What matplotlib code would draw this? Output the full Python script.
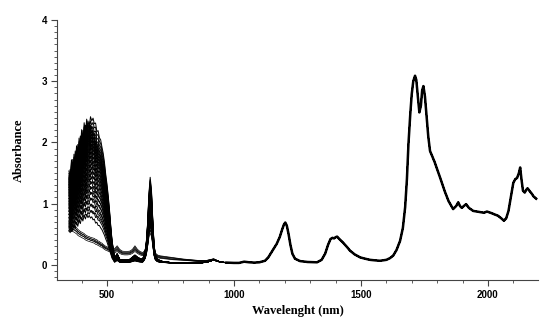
import numpy as np
import matplotlib
matplotlib.use('Agg')
import matplotlib.pyplot as plt
from matplotlib.ticker import MultipleLocator

# visible part of the spectra (350-950 nm)
vis_wl = [350, 355, 360, 365, 370, 375, 380, 385, 390, 395, 400, 405, 410, 415,
          420, 425, 430, 435, 440, 445, 450, 455, 460, 465, 470, 475, 480, 485,
          490, 495, 500, 505, 510, 515, 520,
          530, 540, 550, 560, 570, 580, 590, 600, 610, 620, 630, 640,
          645, 650, 655, 660, 665, 670, 675, 680, 685, 690, 695, 700,
          710, 720, 740, 760, 780, 800, 830, 860, 890, 920, 950]

# common baseline
vis_base = [0.12, 0.12, 0.12, 0.12, 0.12, 0.12, 0.12, 0.11, 0.11, 0.11, 0.11, 0.11, 0.11, 0.1,
            0.1, 0.1, 0.1, 0.1, 0.1, 0.1, 0.1, 0.09, 0.09, 0.08, 0.08, 0.07, 0.07, 0.06,
            0.05, 0.04, 0.04, 0.03, 0.03, 0.02, 0.02,
            0.02, 0.02, 0.02, 0.02, 0.02, 0.02, 0.02, 0.02, 0.02, 0.02, 0.02, 0.02,
            0.02, 0.02, 0.02, 0.02, 0.02, 0.02, 0.02, 0.02, 0.02, 0.03, 0.03, 0.03,
            0.03, 0.03, 0.03, 0.03, 0.03, 0.03, 0.03, 0.03, 0.04, 0.08, 0.04]

# tail after 530 nm shared by both blue band variants
blue_tail = [0.07, 0.03, 0.025, 0.025, 0.025, 0.03, 0.045, 0.06, 0.045, 0.035, 0.03,
             0.03, 0.03, 0.03, 0.03, 0.03, 0.03, 0.03, 0.03, 0.025, 0.02, 0.02, 0.02,
             0.015, 0.01, 0.005, 0, 0, 0, 0, 0, 0, 0, 0]

# blue (carotenoid) band, relative to its maximum: two noisy variants
blue_a = [0.55, 0.62, 0.54, 0.69, 0.63, 0.75, 0.69, 0.8, 0.75, 0.86, 0.81, 0.9, 0.86, 0.94,
          0.9, 0.97, 0.93, 1.0, 0.97, 0.99, 0.95, 0.96, 0.9, 0.91, 0.86, 0.85, 0.8, 0.76,
          0.7, 0.62, 0.55, 0.47, 0.37, 0.26, 0.16, 0.04] + blue_tail
blue_b = [0.62, 0.56, 0.7, 0.6, 0.74, 0.66, 0.8, 0.72, 0.86, 0.78, 0.92, 0.84, 0.97, 0.9,
          1.0, 0.93, 0.98, 0.92, 0.95, 0.88, 0.9, 0.82, 0.84, 0.78, 0.78, 0.74, 0.7, 0.65,
          0.6, 0.53, 0.46, 0.38, 0.29, 0.2, 0.12, 0.03] + blue_tail

# red (chlorophyll) band, relative to its maximum
red_shape = [0] * 47 + [0.04, 0.1, 0.22, 0.45, 0.8, 1.0, 0.85, 0.5, 0.2, 0.07, 0.03, 0.01] + [0] * 11

# smooth curves without the blue band, relative to their start value
low_a = [1.0, 0.98, 0.95, 0.93, 0.9, 0.87, 0.84, 0.81, 0.78, 0.75, 0.73, 0.71, 0.69, 0.67,
         0.65, 0.63, 0.62, 0.6, 0.59, 0.58, 0.57, 0.56, 0.55, 0.53, 0.52, 0.5, 0.49, 0.47,
         0.46, 0.45, 0.44, 0.43, 0.42, 0.41, 0.4,
         0.42, 0.5, 0.4, 0.35, 0.34, 0.34, 0.35, 0.4, 0.5, 0.4, 0.34, 0.31,
         0.3, 0.29, 0.28, 0.27, 0.26, 0.25, 0.25, 0.24, 0.23, 0.22, 0.22, 0.21,
         0.2, 0.19, 0.17, 0.15, 0.13, 0.11, 0.09, 0.07, 0.05, 0.03, 0.0]
low_b = [1.0, 0.97, 0.94, 0.9, 0.88, 0.85, 0.82, 0.79, 0.76, 0.74, 0.71, 0.69, 0.67, 0.65,
         0.63, 0.61, 0.6, 0.58, 0.57, 0.55, 0.54, 0.52, 0.51, 0.5, 0.48, 0.47, 0.46, 0.44,
         0.43, 0.42, 0.41, 0.4, 0.39, 0.38, 0.37,
         0.37, 0.42, 0.35, 0.31, 0.3, 0.3, 0.31, 0.35, 0.42, 0.35, 0.3, 0.27,
         0.26, 0.25, 0.24, 0.23, 0.22, 0.21, 0.21, 0.2, 0.19, 0.18, 0.18, 0.17,
         0.16, 0.15, 0.13, 0.11, 0.1, 0.09, 0.07, 0.05, 0.03, 0.02, 0.0]

# per-curve band heights
blue_peaks = [2.32, 2.28, 2.25, 2.21, 2.18, 2.15, 2.12, 2.1, 2.07, 2.04, 2.01, 1.98, 1.95,
              1.92, 1.88, 1.85, 1.82, 1.78, 1.75, 1.71, 1.68, 1.64, 1.6, 1.56, 1.52, 1.48,
              1.44, 1.4, 1.36, 1.32, 1.27, 1.23, 1.18, 1.14, 1.09, 1.04, 0.99, 0.94, 0.88,
              0.83, 0.78, 0.72]
red_peaks = [1.34, 1.25, 1.3, 1.2, 1.28, 1.15, 1.22, 1.1, 1.18, 1.05, 1.12, 1.0, 1.08,
             0.98, 1.05, 0.95, 1.02, 0.92, 0.99, 0.9, 0.96, 0.88, 0.93, 0.85, 0.9, 0.82,
             0.88, 0.8, 0.85, 0.78, 0.82, 0.75, 0.8, 0.72, 0.76, 0.7, 0.72, 0.66, 0.68,
             0.62, 0.64, 0.6]
low_starts = [0.58, 0.56, 0.54, 0.52, 0.5, 0.47]
low_red = [0.55, 0.5, 0.48, 0.45, 0.42, 0.4]

# near infrared part, shared by all samples
nir_wl = [970, 1000, 1020, 1040, 1060, 1080, 1100, 1122, 1135, 1150, 1168, 1180, 1190,
          1197, 1202, 1208, 1215, 1222, 1230, 1240, 1260, 1290, 1327, 1345, 1359, 1370,
          1380, 1388, 1394, 1400, 1406, 1415, 1430, 1445, 1457, 1475, 1497, 1515, 1536,
          1560, 1575, 1600, 1615, 1627, 1640, 1654, 1665, 1674, 1681, 1687, 1694, 1700,
          1706, 1713, 1718, 1724, 1730, 1736, 1741, 1746, 1752, 1759, 1765, 1772, 1790,
          1812, 1830, 1845, 1863, 1875, 1883, 1890, 1897, 1905, 1914, 1925, 1942, 1970,
          1985, 1996, 2010, 2022, 2040, 2055, 2063, 2072, 2081, 2090, 2100, 2108, 2115,
          2122, 2127, 2132, 2138, 2145, 2150, 2156, 2165, 2173, 2179, 2190]
nir_abs = [0.035, 0.03, 0.03, 0.05, 0.04, 0.035, 0.04, 0.065, 0.12, 0.22, 0.34, 0.45, 0.58,
           0.66, 0.69, 0.64, 0.5, 0.33, 0.18, 0.1, 0.06, 0.045, 0.04, 0.08, 0.18, 0.32,
           0.42, 0.44, 0.43, 0.45, 0.46, 0.42, 0.36, 0.29, 0.23, 0.17, 0.12, 0.1, 0.08,
           0.07, 0.065, 0.08, 0.11, 0.15, 0.24, 0.39, 0.6, 0.94, 1.4, 1.97, 2.45, 2.79,
           3.0, 3.09, 3.02, 2.75, 2.49, 2.6, 2.85, 2.92, 2.75, 2.4, 2.1, 1.86, 1.68,
           1.42, 1.2, 1.04, 0.91, 0.96, 1.02, 0.96, 0.93, 0.96, 0.99, 0.93, 0.88, 0.86,
           0.85, 0.87, 0.85, 0.83, 0.8, 0.75, 0.72, 0.76, 0.88, 1.1, 1.34, 1.4, 1.42,
           1.5, 1.59, 1.4, 1.21, 1.18, 1.22, 1.25, 1.2, 1.16, 1.12, 1.08]

base = np.array(vis_base)
red = np.array(red_shape)
blue_shapes = [np.array(blue_a), np.array(blue_b)]
low_shapes = [np.array(low_a), np.array(low_b)]
wl = np.concatenate([vis_wl, nir_wl])

plt.rcParams['font.family'] = 'Liberation Sans'
fig = plt.figure(figsize=(5.5, 3.23), dpi=100)
ax = fig.add_axes([0.1036, 0.133, 0.8745, 0.805])

for i, (bp, rp) in enumerate(zip(blue_peaks, red_peaks)):
    y = np.concatenate([base + bp * blue_shapes[i % 2] + rp * red, nir_abs])
    ax.plot(wl, y, color='black', lw=0.7)
for i, (ls, rp) in enumerate(zip(low_starts, low_red)):
    y = np.concatenate([base + ls * low_shapes[i % 2] + rp * red, nir_abs])
    ax.plot(wl, y, color='black', lw=0.5)
# the overlapping NIR spectra look like one thick line
ax.plot(nir_wl, nir_abs, color='black', lw=1.8)

ax.set_xlim(303, 2197)
ax.set_ylim(-0.25, 4.0)
ax.xaxis.set_major_locator(MultipleLocator(500))
ax.xaxis.set_minor_locator(MultipleLocator(100))
ax.yaxis.set_major_locator(MultipleLocator(1))
ax.yaxis.set_minor_locator(MultipleLocator(0.1))
ax.tick_params(which='major', length=4, width=0.8, color='#444444', labelsize=7, pad=3)
ax.tick_params(which='minor', length=2, width=0.6, color='#444444')
for lab in ax.get_xticklabels() + ax.get_yticklabels():
    lab.set_fontweight('bold')
for s in ['top', 'right']:
    ax.spines[s].set_visible(False)
for s in ['left', 'bottom']:
    ax.spines[s].set_color('#444444')
    ax.spines[s].set_linewidth(0.8)

ax.set_xlabel('Wavelenght (nm)', family='Liberation Serif', fontweight='bold', fontsize=9, labelpad=4)
ax.set_ylabel('Absorbance', family='Liberation Serif', fontweight='bold', fontsize=9, labelpad=12)

fig.savefig('out.png', dpi=100)
